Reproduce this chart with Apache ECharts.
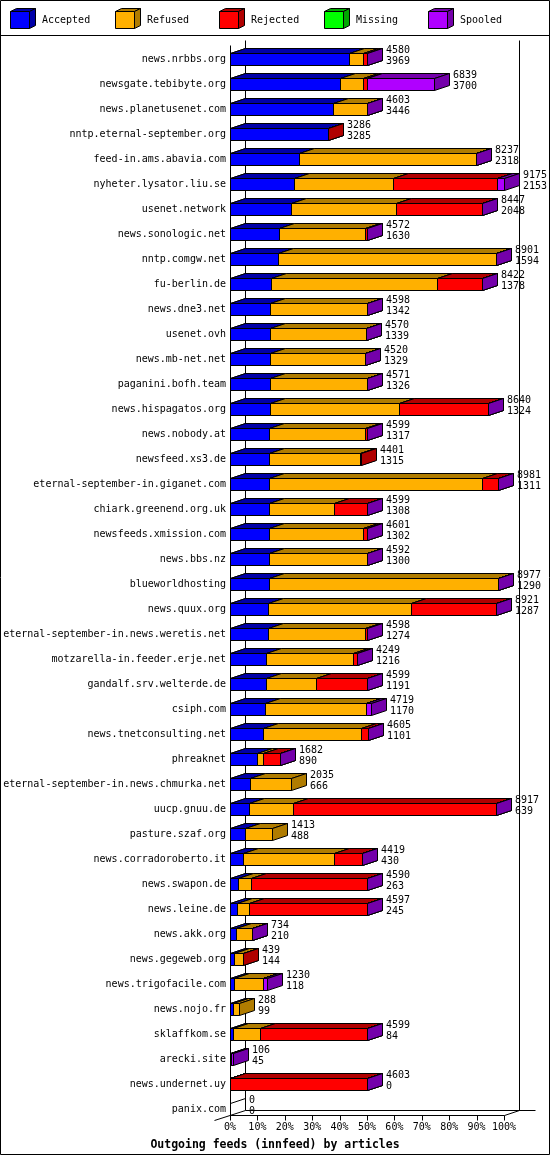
<!DOCTYPE html>
<html><head><meta charset="utf-8">
<script src="https://cdn.jsdelivr.net/npm/echarts@6/dist/echarts.min.js"></script>
<style>html,body{margin:0;padding:0;background:#fff}#c{width:550px;height:1155px}</style>
</head><body><div id="c"></div>
<script>
const hosts = ['news.nrbbs.org','newsgate.tebibyte.org','news.planetusenet.com','nntp.eternal-september.org','feed-in.ams.abavia.com','nyheter.lysator.liu.se','usenet.network','news.sonologic.net','nntp.comgw.net','fu-berlin.de','news.dne3.net','usenet.ovh','news.mb-net.net','paganini.bofh.team','news.hispagatos.org','news.nobody.at','newsfeed.xs3.de','eternal-september-in.giganet.com','chiark.greenend.org.uk','newsfeeds.xmission.com','news.bbs.nz','blueworldhosting','news.quux.org','eternal-september-in.news.weretis.net','motzarella-in.feeder.erje.net','gandalf.srv.welterde.de','csiph.com','news.tnetconsulting.net','phreaknet','eternal-september-in.news.chmurka.net','uucp.gnuu.de','pasture.szaf.org','news.corradoroberto.it','news.swapon.de','news.leine.de','news.akk.org','news.gegeweb.org','news.trigofacile.com','news.nojo.fr','sklaffkom.se','arecki.site','news.undernet.uy','panix.com'];
const totals   = [4580,6839,4603,3286,8237,9175,8447,4572,8901,8422,4598,4570,4520,4571,8640,4599,4401,8981,4599,4601,4592,8977,8921,4598,4249,4599,4719,4605,1682,2035,8917,1413,4419,4590,4597,734,439,1230,288,4599,106,4603,0];
const accepted = [3969,3700,3446,3285,2318,2153,2048,1630,1594,1378,1342,1339,1329,1326,1324,1317,1315,1311,1308,1302,1300,1290,1287,1274,1216,1191,1170,1101,890,666,639,488,430,263,245,210,144,118,99,84,45,0,0];
const refused  = [490,756,1157,0,5919,3310,3494,2883,7307,5544,3256,3231,3191,3245,4321,3219,3054,7123,2187,3153,3292,7687,4761,3263,2903,1700,3377,3286,205,1369,1478,925,3064,444,380,524,279,978,189,911,0,0,null];
const rejected = [121,134,0,1,0,3474,2905,59,0,1500,0,0,0,0,2995,63,32,547,1104,146,0,0,2873,61,130,1708,0,218,587,null,6800,null,925,3883,3972,0,16,0,null,3604,0,4603,null];
const missing  = [0,0,0,null,0,0,0,0,0,0,0,0,0,0,0,0,null,0,0,0,0,0,0,0,0,0,0,0,0,null,0,null,0,0,0,0,null,0,null,0,0,0,null];
const spooled  = [0,2249,0,null,0,238,0,0,0,0,0,0,0,0,0,0,null,0,0,0,0,0,0,0,0,0,172,0,0,null,0,null,0,0,0,0,null,134,null,0,61,0,null];
const seriesNames = ['Accepted','Refused','Rejected','Missing','Spooled'];
const xTicks = [0,10,20,30,40,50,60,70,80,90,100];

const frontColors = ['#0000ff','#ffb000','#ff0000','#00ff00','#b000ff'];
const darkColors  = ['#0000a8','#b07c00','#b00000','#00a800','#7400aa'];
const FONT = '"DejaVu Sans Mono", monospace';
const maxTotal = Math.max.apply(null, totals);
const D = 15, DY = 5;
const R = v => Math.round(v) + 0.5;

function barRender(params, api) {
  const i = params.dataIndex;
  const cy = api.coord([0, i])[1];
  const yT = R(cy - 6), yB = R(cy + 6);
  const children = [];
  const segs = [accepted[i], refused[i], rejected[i], missing[i], spooled[i]];
  let cum = 0;
  if (totals[i] > 0) {
    segs.forEach((v, k) => {
      if (v == null) return;
      const xa = R(api.coord([cum / maxTotal * 100, i])[0]);
      cum += v;
      const xb = R(api.coord([cum / maxTotal * 100, i])[0]);
      children.push({type:'rect', shape:{x:xa, y:yT, width:xb - xa, height:yB - yT},
        style:{fill:frontColors[k], stroke:'#000', lineWidth:1}});
      children.push({type:'polygon', shape:{points:[[xa,yT],[xa+D,yT-DY],[xb+D,yT-DY],[xb,yT]]},
        style:{fill:darkColors[k], stroke:'#000', lineWidth:1}});
      children.push({type:'polygon', shape:{points:[[xb,yT],[xb+D,yT-DY],[xb+D,yB-DY],[xb,yB]]},
        style:{fill:darkColors[k], stroke:'#000', lineWidth:1}});
    });
  }
  const xe = Math.round(api.coord([totals[i] / maxTotal * 100, i])[0]) + D + 4;
  children.push({type:'text', style:{text:String(totals[i]), x:xe, y:cy - 8.5, fill:'#000', font:'10px ' + FONT,
    align:'left', verticalAlign:'middle', textAlign:'left', textVerticalAlign:'middle'}});
  children.push({type:'text', style:{text:String(accepted[i]), x:xe, y:cy + 2.5, fill:'#000', font:'10px ' + FONT,
    align:'left', verticalAlign:'middle', textAlign:'left', textVerticalAlign:'middle'}});
  return {type:'group', children};
}

function frameRender(params, api) {
  const n = hosts.length;
  const x0 = R(api.coord([0, 0])[0]);
  const x100 = R(api.coord([100, 0])[0]);
  const yF = api.coord([0, 0])[1];
  const yL = api.coord([0, n - 1])[1];
  const floorF = R(yL + 6), floorB = R(yL + 1);
  const ln = (a, b, c, d) => ({type:'line', shape:{x1:a, y1:b, x2:c, y2:d}, style:{stroke:'#000', lineWidth:1}});
  const ch = [];
  ch.push(ln(x0 + D, R(yF - 19), x0 + D, floorB));
  ch.push(ln(x100 + D, R(yF - 19), x100 + D, floorB));
  for (let i = 0; i < n; i++) {
    const cy = api.coord([0, i])[1];
    ch.push(ln(x0, R(cy - 6), x0 + D, R(cy - 6) - DY));
  }
  ch.push(ln(x0 + D, floorB, x100 + 2 * D + 1, floorB));
  ch.push(ln(x0 - 16, floorF + 5, x0 + D, floorB));
  ch.push(ln(x100, floorF, x100 + D, floorB));
  ch.push(ln(x0, floorF, x100, floorF));
  ch.push(ln(x0, R(yF - 14), x0, floorF));
  xTicks.forEach(p => {
    const x = R(api.coord([p, 0])[0]);
    ch.push(ln(x, floorF, x, floorF + 5));
  });
  return {type:'group', children:ch};
}

const graphics = [
  {type:'rect', shape:{x:0.5, y:0.5, width:549, height:1154}, style:{fill:'none', stroke:'#000', lineWidth:1}, silent:true},
  {type:'line', shape:{x1:0, y1:35.5, x2:550, y2:35.5}, style:{stroke:'#000', lineWidth:1}, silent:true}
];
seriesNames.forEach((name, k) => {
  const bx = Math.round(10 + k * 104.5) + 0.5;
  graphics.push({type:'rect', shape:{x:bx, y:11.5, width:19, height:17}, style:{fill:frontColors[k], stroke:'#000', lineWidth:1}});
  graphics.push({type:'polygon', shape:{points:[[bx,11.5],[bx+6,8.5],[bx+25,8.5],[bx+19,11.5]]}, style:{fill:darkColors[k], stroke:'#000', lineWidth:1}});
  graphics.push({type:'polygon', shape:{points:[[bx+19,11.5],[bx+25,8.5],[bx+25,25.5],[bx+19,28.5]]}, style:{fill:darkColors[k], stroke:'#000', lineWidth:1}});
  graphics.push({type:'text', x:bx + 31.5, y:20, style:{text:name, fill:'#000', font:'10px ' + FONT, textVerticalAlign:'middle', verticalAlign:'middle'}});
});

const chart = echarts.init(document.getElementById('c'), null, {renderer:'canvas'});
chart.setOption({
  animation:false,
  backgroundColor:'#fff',
  title:{text:'Outgoing feeds (innfeed) by articles', left:'center', top:1134,
    textStyle:{fontFamily:FONT, fontWeight:'bold', fontSize:11.5, color:'#000'}},
  grid:{left:230, right:46, top:46.5, bottom:33.5},
  xAxis:{type:'value', min:0, max:100, interval:10,
    axisLine:{show:false}, axisTick:{show:false}, splitLine:{show:false},
    axisLabel:{formatter:'{value}%', margin:1, fontFamily:FONT, fontSize:10, color:'#000'}},
  yAxis:{type:'category', data:hosts, inverse:true,
    axisLine:{show:false}, axisTick:{show:false}, splitLine:{show:false},
    axisLabel:{interval:0, margin:4, fontFamily:FONT, fontSize:10, color:'#000'}},
  graphic:graphics,
  series:[
    {type:'custom', name:'frame', data:[[0,0]], renderItem:frameRender, z:1, silent:true, clip:false},
    {type:'custom', name:'feeds', data:hosts.map((h,i)=>[totals[i]/maxTotal*100, i]), encode:{x:0, y:1},
      renderItem:barRender, z:2, silent:true, clip:false}
  ]
});
</script>
</body></html>
